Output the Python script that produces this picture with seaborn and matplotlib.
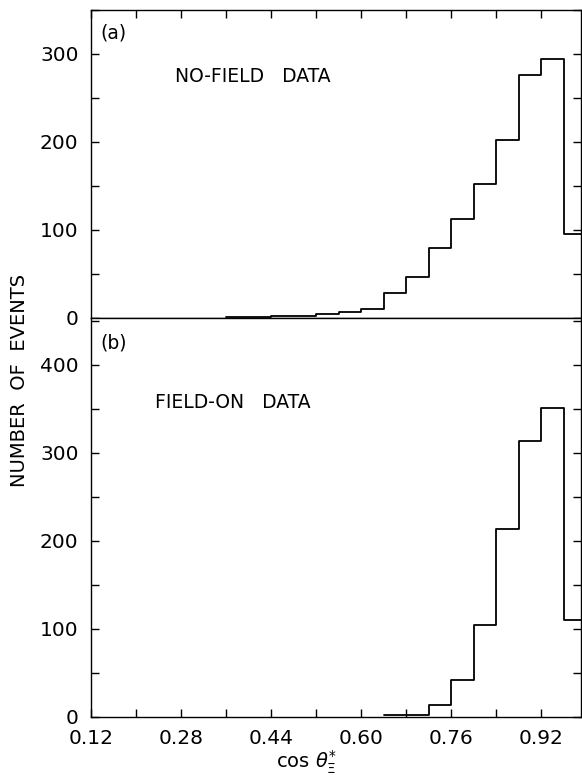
import numpy as np
import pandas as pd
import seaborn as sns
import matplotlib
matplotlib.use("Agg")
import matplotlib.pyplot as plt
from matplotlib.ticker import MultipleLocator, FixedLocator

# ---- data ----
nofield_edges = [0.36, 0.40, 0.44, 0.48, 0.52, 0.56, 0.60, 0.64, 0.68, 0.72,
                 0.76, 0.80, 0.84, 0.88, 0.92, 0.96, 1.00]
nofield_counts = [1, 1, 2, 2, 4, 7, 10, 28, 47, 80, 113, 152, 202, 276, 294, 95]
fieldon_edges = [0.64, 0.68, 0.72, 0.76, 0.80, 0.84, 0.88, 0.92, 0.96, 1.00]
fieldon_counts = [2, 2, 14, 42, 105, 213, 313, 351, 110]
x_tick_labels = ["0.12", "0.28", "0.44", "0.60", "0.76", "0.92"]
x_tick_values = [0.12, 0.28, 0.44, 0.60, 0.76, 0.92]
x_minor_values = [0.20, 0.36, 0.52, 0.68, 0.84]
top_yticks = [0, 100, 200, 300]
bot_yticks = [0, 100, 200, 300, 400]

sns.set_style("ticks")
plt.rcParams["font.family"] = ["DejaVu Sans"]
plt.rcParams["text.color"] = "black"
plt.rcParams["xtick.color"] = "black"
plt.rcParams["ytick.color"] = "black"
plt.rcParams["axes.labelcolor"] = "black"


def centers_of(e):
    e = np.asarray(e, dtype=float)
    return (e[:-1] + e[1:]) / 2


df_a = pd.DataFrame({"x": centers_of(nofield_edges), "w": nofield_counts})
df_b = pd.DataFrame({"x": centers_of(fieldon_edges), "w": fieldon_counts})

fig = plt.figure(figsize=(5.82, 7.77), dpi=100)
W, H = 582, 777
left, right = 91, 581
ax_a = fig.add_axes([left / W, (H - 318) / H, (right - left) / W, (318 - 10) / H])
ax_b = fig.add_axes([left / W, (H - 717) / H, (right - left) / W, (717 - 318) / H])

for ax, df, e in ((ax_a, df_a, nofield_edges), (ax_b, df_b, fieldon_edges)):
    sns.histplot(data=df, x="x", weights="w", bins=list(e), element="step",
                 fill=False, color="black", linewidth=1.3, ax=ax)
    ax.set_xlim(0.12, 0.991)
    for s in ax.spines.values():
        s.set_visible(True)
        s.set_linewidth(1.0)
        s.set_color("black")
    ax.xaxis.set_major_locator(FixedLocator(x_tick_values))
    ax.xaxis.set_minor_locator(FixedLocator(x_minor_values))
    ax.yaxis.set_major_locator(MultipleLocator(100))
    ax.yaxis.set_minor_locator(MultipleLocator(50))
    ax.tick_params(which="both", direction="in", length=6, width=1.0,
                   color="black", labelsize=14.5, pad=9, labelcolor="black",
                   right=True, left=True)
    ax.set_ylabel("")
    ax.set_xlabel("")

ax_a.set_ylim(0, 350)
ax_b.set_ylim(0, 453)
ax_a.set_yticks(top_yticks)
ax_b.set_yticks(bot_yticks)
ax_a.tick_params(which="both", top=True, bottom=False, labelbottom=False)
ax_b.tick_params(which="both", top=False, bottom=True, labelbottom=True)
ax_b.set_xticks(x_tick_values)
ax_b.set_xticklabels(x_tick_labels)

fs = 13.5
fig.text(100 / W, 1 - 33 / H, "(a)", fontsize=fs, va="center", ha="left")
fig.text(175 / W, 1 - 77 / H, "NO-FIELD   DATA", fontsize=fs,
         va="center", ha="left")
fig.text(100 / W, 1 - 343 / H, "(b)", fontsize=fs, va="center", ha="left")
fig.text(155 / W, 1 - 402 / H, "FIELD-ON   DATA", fontsize=fs,
         va="center", ha="left")

fig.text(20 / W, 1 - 380 / H, "NUMBER  OF  EVENTS", rotation=90, fontsize=14,
         va="center", ha="center")
fig.text(306 / W, 1 - 762 / H, r"cos $\theta^{*}_{\Xi}$", fontsize=14,
         va="center", ha="center")

fig.savefig("out.png", dpi=100)
